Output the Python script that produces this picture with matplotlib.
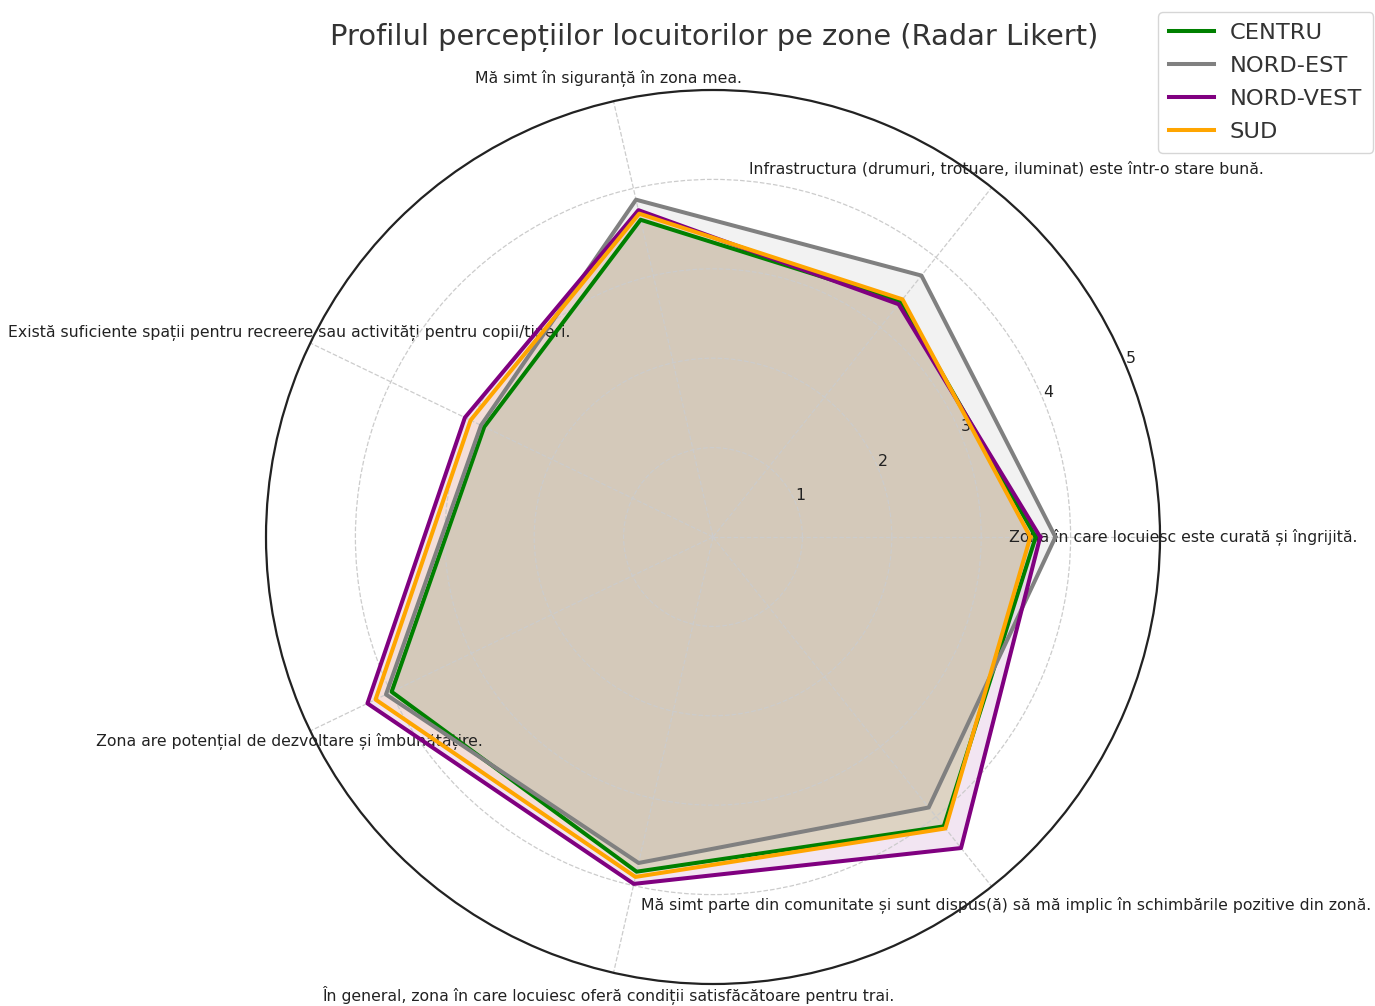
import numpy as np
import matplotlib
matplotlib.use("Agg")
import matplotlib.pyplot as plt

categories = [
    "Zona în care locuiesc este curată și îngrijită.",
    "Infrastructura (drumuri, trotuare, iluminat) este într-o stare bună.",
    "Mă simt în siguranță în zona mea.",
    "Există suficiente spații pentru recreere sau activități pentru copii/tineri.",
    "Zona are potențial de dezvoltare și îmbunătățire.",
    "În general, zona în care locuiesc oferă condiții satisfăcătoare pentru trai.",
    "Mă simt parte din comunitate și sunt dispus(ă) să mă implic în schimbările pozitive din zonă.",
]

zones = ["CENTRU", "NORD-EST", "NORD-VEST", "SUD"]
centru = [3.61, 3.37, 3.64, 2.84, 3.99, 3.84, 4.14]
nord_est = [3.83, 3.74, 3.87, 2.88, 4.06, 3.74, 3.87]
nord_vest = [3.66, 3.33, 3.75, 3.08, 4.29, 3.98, 4.45]
sud = [3.55, 3.40, 3.71, 3.01, 4.19, 3.90, 4.17]
series = [centru, nord_est, nord_vest, sud]
colors = ["green", "gray", "purple", "orange"]
rticks = [1, 2, 3, 4, 5]

fig = plt.figure(figsize=(13.75, 10.06), dpi=100)
ax = fig.add_axes([266/1375, 22/1006, 894/1375, 894/1006], projection="polar")

n = len(categories)
angles = np.linspace(0, 2*np.pi, n, endpoint=False).tolist()
angles_closed = angles + angles[:1]

for name, vals, col in zip(zones, series, colors):
    v = vals + vals[:1]
    ax.plot(angles_closed, v, color=col, linewidth=2.9, label=name)
    ax.fill(angles_closed, v, color=col, alpha=0.1)

ax.set_xticks(angles)
ax.set_xticklabels(categories, fontsize=11.3, color="#222222")
ax.tick_params(axis="x", pad=6.5)
ax.set_ylim(0, 5)
ax.set_yticks(rticks)
ax.set_yticklabels([str(t) for t in rticks], fontsize=11.3, color="#222222")
ax.grid(True, color="#cccccc", linestyle="--", linewidth=0.9)
ax.spines["polar"].set_color("#222222")
ax.spines["polar"].set_linewidth(1.6)

fig.text(714/1375, 1 - 38/1006, "Profilul percepțiilor locuitorilor pe zone (Radar Likert)",
         ha="center", va="center", fontsize=20.8, color="#333333")

leg = ax.legend(loc="upper right", bbox_to_anchor=(1373/1375, 1 - 12/1006),
                bbox_transform=fig.transFigure, borderaxespad=0, fontsize=16.2,
                labelspacing=0.58, borderpad=0.48, handlelength=2.0, handletextpad=0.7)
for t in leg.get_texts():
    t.set_color("#333333")

fig.savefig("out.png", dpi=100)
